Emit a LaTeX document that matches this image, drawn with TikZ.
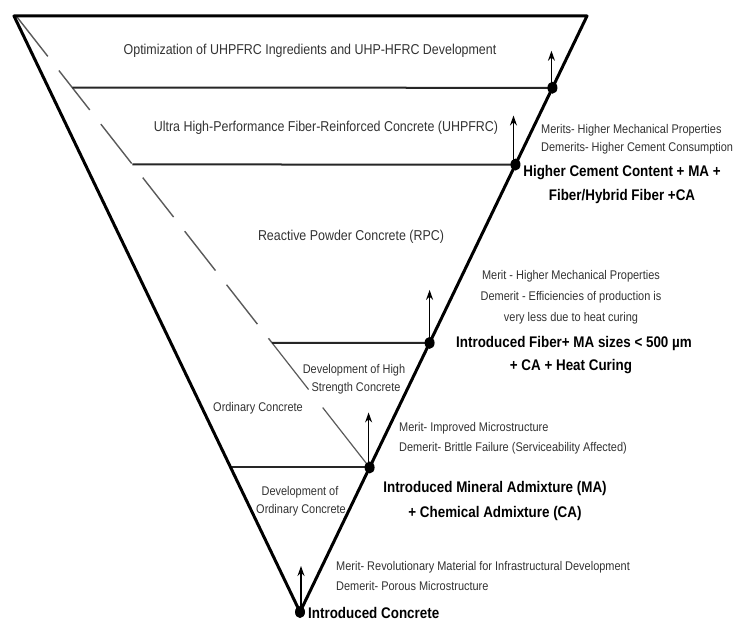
\documentclass[tikz,border=0pt]{standalone}
\usepackage{fontspec}
\setmainfont{Liberation Sans}[FakeStretch=0.87]
\usetikzlibrary{arrows.meta,calc,shapes.geometric}
\definecolor{txt}{HTML}{333333}
\definecolor{dashc}{HTML}{5A5A5A}
\begin{document}
\begin{tikzpicture}[x=1pt,y=-1pt,
  edge/.style={line width=3pt, line join=round},
  level/.style={line width=2pt, black!85},
  dashline/.style={line width=1.4pt, dashc, dash pattern=on 50pt off 18pt},
  thinline/.style={line width=1.2pt, dashc},
  dot/.style={ellipse, fill=black, inner sep=0pt, minimum width=10pt, minimum height=12pt},
  upar/.style={-{Stealth[length=10pt,width=7pt]}, line width=1.3pt},
  hd/.style={font=\fontsize{14.3}{17}\selectfont, text=txt, inner sep=0pt},
  sm/.style={font=\fontsize{12.6}{15}\selectfont, text=txt, inner sep=0pt},
  bd/.style={font=\bfseries\fontsize{15.4}{18}\selectfont, text=black, inner sep=0pt},
]
\useasboundingbox (0,0) rectangle (749,623);
\fill[white] (0,0) rectangle (749,623);

% outer inverted triangle
\coordinate (TL) at (14,16);
\coordinate (TR) at (587,16);
\coordinate (AP) at (300,612);
\coordinate (S) at (17,17);

% points on the right edge
\coordinate (p1) at ($(TR)!0.1204!(AP)$);
\coordinate (p2) at ($(TR)!0.2492!(AP)$);
\coordinate (p3) at ($(TR)!0.5485!(AP)$);
\coordinate (p4) at ($(TR)!0.7575!(AP)$);

% left ends of the level lines
\coordinate (q1) at ($(S)!0.157!(p4)$);
\coordinate (q2) at ($(S)!0.3274!(p4)$);
\coordinate (q3) at ($(S)!0.7235!(p4)$);
\coordinate (q4) at ($(TL)!0.7575!(AP)$);
\coordinate (g1) at ($(S)!0.827!(p4)$);
\coordinate (g2) at ($(S)!0.867!(p4)$);

% arrow tips
\coordinate (a1) at ($(p1)+(-1,-37)$);
\coordinate (a2) at ($(p2)+(-2,-49)$);
\coordinate (a3) at ($(p3)+(0,-53)$);
\coordinate (a4) at ($(p4)+(-1,-55)$);
\coordinate (a5) at ($(AP)+(1,-46)$);

% diagonal guide line
\draw[dashline] (S) -- (q3);
\draw[thinline] (q3) -- (g1);
\draw[thinline] (g2) -- (p4);

% levels
\draw[level] (q1) -- (p1);
\draw[level] (q2) -- (p2);
\draw[level] (q3) -- (p3);
\draw[level] (q4) -- (p4);

\draw[edge] (TL) -- (TR) -- (AP) -- cycle;

% dots
\node[dot] (d1) at (p1) {};
\node[dot] (d2) at (p2) {};
\node[dot] (d3) at (p3) {};
\node[dot] (d4) at (p4) {};
\node[dot] (d5) at (AP) {};

% arrows
\draw[upar] ($(d1.center)+(-1,0)$) -- (a1);
\draw[upar] ($(d2.center)+(-2,0)$) -- (a2);
\draw[upar] (d3.center) -- (a3);
\draw[upar] ($(d4.center)+(-1,0)$) -- (a4);
\draw[upar] ($(d5.center)+(1,0)$) -- (a5);

% level titles
\node[hd] (t1) at (310,51) {Optimization of UHPFRC Ingredients and UHP-HFRC Development};
\node[hd] (t2) at (326,128) {Ultra High-Performance Fiber-Reinforced Concrete (UHPFRC)};
\node[hd] (t3) at (351,237) {Reactive Powder Concrete (RPC)};
\node[sm] (t4a) at (354,370) {Development of High};
\node[sm] (t4b) at (356,388) {Strength Concrete};
\node[sm] (t5) at (258,408) {Ordinary Concrete};
\node[sm] (t6a) at (300,492) {Development of};
\node[sm] (t6b) at (301,510) {Ordinary Concrete};

% merits / demerits
\node[sm, anchor=west] (m1a) at (541,130) {Merits- Higher Mechanical Properties};
\node[sm, anchor=west] (m1b) at (541,148) {Demerits- Higher Cement Consumption};
\node[sm] (m2a) at (571,276) {Merit - Higher Mechanical Properties};
\node[sm] (m2b) at (571,297) {Demerit - Efficiencies of production is};
\node[sm] (m2c) at (571,318) {very less due to heat curing};
\node[sm, anchor=west] (m3a) at (399,428) {Merit- Improved Microstructure};
\node[sm, anchor=west] (m3b) at (399,448) {Demerit- Brittle Failure (Serviceability Affected)};
\node[sm, anchor=west] (m4a) at (336,567) {Merit- Revolutionary Material for Infrastructural Development};
\node[sm, anchor=west] (m4b) at (336,586) {Demerit- Porous Microstructure};

% bold milestones
\node[bd] (b1a) at (622,173) {Higher Cement Content + MA +};
\node[bd] (b1b) at (622,197) {Fiber/Hybrid Fiber +CA};
\node[bd] (b2a) at (574,344) {Introduced Fiber+ MA sizes < 500 µm};
\node[bd] (b2b) at (571,367) {+ CA + Heat Curing};
\node[bd] (b3a) at (495,489) {Introduced Mineral Admixture (MA)};
\node[bd] (b3b) at (495,514) {+ Chemical Admixture (CA)};
\node[bd, anchor=west] (b4) at (308,613) {Introduced Concrete};
\end{tikzpicture}
\end{document}
